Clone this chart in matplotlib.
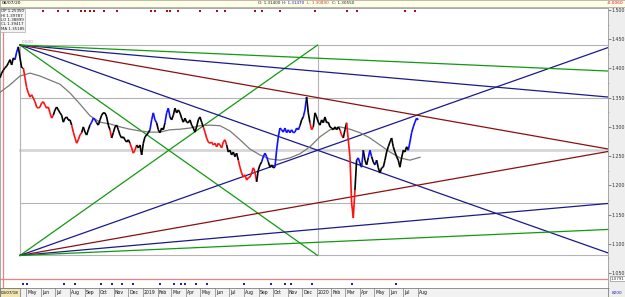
import numpy as np
import pandas as pd
import matplotlib
matplotlib.use("Agg")
import matplotlib.pyplot as plt
import matplotlib.dates as mdates
from matplotlib.collections import LineCollection
from matplotlib.patches import Rectangle

# ---------------- data ----------------
series_start = "2018-03-07"
series_step = "84h"          # one sample every 3.5 days
close = [
    1.384, 1.392, 1.397, 1.401, 1.404, 1.409, 1.415, 1.406, 1.418, 1.415,
    1.428, 1.437, 1.418, 1.401, 1.401, 1.384, 1.367, 1.358, 1.351, 1.355,
    1.349, 1.343, 1.334, 1.332, 1.334, 1.341, 1.343, 1.337, 1.332, 1.334,
    1.324, 1.315, 1.320, 1.329, 1.334, 1.329, 1.324, 1.320, 1.308, 1.315,
    1.317, 1.312, 1.312, 1.303, 1.291, 1.281, 1.272, 1.278, 1.286, 1.290,
    1.300, 1.291, 1.286, 1.295, 1.303, 1.308, 1.315, 1.312, 1.307, 1.303,
    1.312, 1.320, 1.324, 1.324, 1.317, 1.303, 1.295, 1.281, 1.290, 1.300,
    1.303, 1.295, 1.286, 1.281, 1.283, 1.278, 1.274, 1.278, 1.272, 1.264,
    1.255, 1.260, 1.269, 1.264, 1.269, 1.252, 1.272, 1.283, 1.286, 1.290,
    1.295, 1.312, 1.324, 1.312, 1.307, 1.295, 1.290, 1.298, 1.295, 1.307,
    1.324, 1.332, 1.317, 1.312, 1.320, 1.332, 1.324, 1.329, 1.324, 1.315,
    1.308, 1.315, 1.308, 1.307, 1.312, 1.303, 1.298, 1.291, 1.300, 1.312,
    1.317, 1.308, 1.300, 1.291, 1.281, 1.274, 1.272, 1.274, 1.269, 1.272,
    1.266, 1.272, 1.269, 1.264, 1.274, 1.278, 1.269, 1.257, 1.260, 1.252,
    1.257, 1.249, 1.255, 1.243, 1.231, 1.221, 1.214, 1.218, 1.209, 1.213,
    1.214, 1.221, 1.230, 1.223, 1.206, 1.226, 1.235, 1.240, 1.249, 1.255,
    1.249, 1.240, 1.231, 1.235, 1.230, 1.231, 1.260, 1.283, 1.298, 1.295,
    1.291, 1.298, 1.290, 1.295, 1.290, 1.295, 1.290, 1.291, 1.298, 1.295,
    1.302, 1.312, 1.317, 1.329, 1.351, 1.324, 1.307, 1.295, 1.300, 1.324,
    1.317, 1.308, 1.303, 1.312, 1.307, 1.317, 1.307, 1.308, 1.300, 1.298,
    1.295, 1.300, 1.295, 1.300, 1.295, 1.286, 1.281, 1.295, 1.307, 1.278,
    1.249, 1.170, 1.144, 1.192, 1.243, 1.247, 1.238, 1.231, 1.260, 1.243,
    1.235, 1.247, 1.260, 1.249, 1.240, 1.235, 1.243, 1.230, 1.221, 1.230,
    1.231, 1.243, 1.257, 1.266, 1.274, 1.281, 1.266, 1.257, 1.249, 1.243,
    1.231, 1.247, 1.260, 1.257, 1.266, 1.260, 1.274, 1.290, 1.300, 1.308,
    1.315, 1.312,
]
# trend colouring of the bars: (colour code, number of samples)
color_runs = [
    ("k", 10), ("b", 2), ("k", 3), ("r", 18), ("k", 11), ("r", 6), ("k", 5),
    ("b", 4), ("k", 8), ("r", 1), ("k", 11), ("r", 4), ("k", 8), ("b", 4),
    ("k", 5), ("b", 3), ("k", 20), ("r", 14), ("k", 7), ("r", 11), ("k", 3),
    ("b", 4), ("k", 4), ("b", 15), ("k", 2), ("b", 2), ("k", 2), ("r", 2),
    ("k", 16), ("r", 2), ("k", 2), ("r", 5), ("k", 1), ("b", 2), ("k", 1),
    ("b", 1), ("k", 3), ("b", 2), ("k", 2), ("b", 1), ("k", 19), ("b", 6),
]
ma_start = "2018-03-07"
ma_step = "21D"
ma_values = [
    1.359, 1.372, 1.387, 1.392, 1.387, 1.380, 1.373, 1.358, 1.339, 1.319,
    1.308, 1.305, 1.300, 1.296, 1.293, 1.291, 1.291, 1.295, 1.296, 1.298,
    1.302, 1.303, 1.302, 1.293, 1.278, 1.262, 1.252, 1.245, 1.243, 1.247,
    1.254, 1.266, 1.283, 1.295, 1.300, 1.296, 1.290, 1.281, 1.269, 1.257,
    1.247, 1.243, 1.248,
]
red_marks = [
    "2018-06-05", "2018-07-07", "2018-07-28", "2018-08-24", "2018-09-01",
    "2018-09-12", "2018-09-20", "2018-10-11", "2018-11-08", "2019-01-18",
    "2019-01-27", "2019-02-21", "2019-02-27", "2019-03-16", "2019-05-01",
    "2019-06-06", "2019-06-23", "2019-08-25", "2019-09-08", "2019-10-16",
    "2019-12-29", "2020-03-05", "2020-03-26", "2020-07-05", "2020-07-26",
]
blue_marks = [
    "2018-04-24", "2018-05-03", "2018-07-19", "2018-08-12", "2018-10-05",
    "2018-10-28", "2018-11-18", "2018-12-11", "2019-02-06", "2019-03-07",
    "2019-03-22", "2019-03-31", "2019-04-23", "2019-05-16", "2019-08-01",
    "2019-09-27", "2019-10-27", "2019-11-08", "2019-12-22", "2020-03-15",
    "2020-06-16",
]
gann_start = "2018-04-18"
gann_end = "2020-01-03"
gann_high = 1.44
gann_low = 1.08
gann_levels = [1.08, 1.17, 1.26, 1.35, 1.44]
fan_ratios = [1, 2, 4, 8, 16]
fan_colors = ["#109a10", "#1a1a8c", "#8b1010", "#1a1a8c", "#109a10"]
red_level = 1.040
red_level_label = "1.0791"
red_vline = "2018-03-13"
y_ticks = [1.05, 1.10, 1.15, 1.20, 1.25, 1.30, 1.35, 1.40, 1.45, 1.50]
x_left = "2018-03-07"
x_right = "2021-09-04"
y_bottom, y_top = 1.0243, 1.5034
month_starts = pd.date_range("2018-05-01", "2020-08-01", freq="MS")
first_label = "03/07/18"
info_lines = ["OP 1.25350", "HI 1.39787", "LO 1.38899", "CL 1.39417", "MA 1.35185"]
header_date = "08/07/20"
header_ohlc = [("O: 1.31400", "#222222"), ("H: 1.31470", "#2020c0"),
               ("L: 1.30890", "#d04020"), ("C: 1.30550", "#222222")]
header_change = "-0.0060"
corner_label = "8200"

# ---------------- figure ----------------
W, H = 625, 297
fig = plt.figure(figsize=(W / 100, H / 100), dpi=100, facecolor="#eeeeee")

def fx(px):
    return px / W

def fy(py):
    return 1 - py / H

ax = fig.add_axes([0, fy(288), fx(608), fy(8) - fy(288)], facecolor="white")
xl = mdates.date2num(pd.Timestamp(x_left))
xr = mdates.date2num(pd.Timestamp(x_right))
ax.set_xlim(xl, xr)
ax.set_ylim(y_bottom, y_top)

# gann box and levels
g0 = mdates.date2num(pd.Timestamp(gann_start))
g1 = mdates.date2num(pd.Timestamp(gann_end))
for lv in gann_levels:
    if abs(lv - (gann_high + gann_low) / 2) < 1e-9:
        ax.plot([g0, xr], [lv, lv], color="#d6d6d6", lw=2.0, zorder=1)
    else:
        ax.plot([g0, xr], [lv, lv], color="#b4b4b4", lw=0.8, zorder=1)
for gx in (g0, g1):
    ax.plot([gx, gx], [gann_low, gann_high], color="#b4b4b4", lw=0.8, zorder=1)
ax.text(g0 + 3, gann_high + 0.002, "0.500", fontsize=3.0, color="#999999",
        va="bottom", ha="left")

span = g1 - g0
rng = gann_high - gann_low
for r, c in zip(fan_ratios, fan_colors):
    end = g1 if r == 1 else xr
    ax.plot([g0, end], [gann_high, gann_high - rng / r * (end - g0) / span],
            color=c, lw=0.9, zorder=2)
    ax.plot([g0, end], [gann_low, gann_low + rng / r * (end - g0) / span],
            color=c, lw=0.9, zorder=2)

# red reference lines
ax.axhline(red_level, color="#f08080", lw=0.9, zorder=1)
ax.axvline(mdates.date2num(pd.Timestamp(red_vline)), color="#f08080", lw=0.9, zorder=1)

# moving average
ma_dates = mdates.date2num(pd.date_range(ma_start, periods=len(ma_values), freq=ma_step))
ax.plot(ma_dates, ma_values, color="#7a7a7a", lw=0.9, zorder=3)

# price
p_dates = mdates.date2num(pd.date_range(series_start, periods=len(close), freq=series_step))
codes = []
for c, n in color_runs:
    codes += [c] * n
cmap = {"k": "#000000", "r": "#ff1010", "b": "#1010ff"}
pts = np.column_stack([p_dates, close])
segs = np.stack([pts[:-1], pts[1:]], axis=1)
lc = LineCollection(segs, colors=[cmap[c] for c in codes[1:]], linewidths=1.2, zorder=4)
ax.add_collection(lc)

# event markers
ax.scatter(mdates.date2num(pd.to_datetime(red_marks)), [1.4985] * len(red_marks),
           marker="s", s=2.5, color="#a01010", zorder=5, linewidths=0)
ax.scatter(mdates.date2num(pd.to_datetime(blue_marks)), [1.031] * len(blue_marks),
           marker="s", s=2.5, color="#2020c0", zorder=5, linewidths=0)

# axis styling
ax.set_xticks([])
ax.yaxis.tick_right()
ax.set_yticks(y_ticks)
ax.set_yticklabels([f"{v:.3f}" for v in y_ticks], fontsize=3.4, color="#333333")
ax.set_yticks(np.arange(1.025, 1.51, 0.025), minor=True)
ax.tick_params(axis="y", which="major", direction="out", length=2.0, width=0.5,
               pad=0.8, colors="#555555", labelcolor="#333333")
ax.tick_params(axis="y", which="minor", direction="out", length=1.0, width=0.4,
               colors="#777777")
for s in ax.spines.values():
    s.set_color("#9a9a9a")
    s.set_linewidth(0.6)
ax.text(1.004, (red_level - y_bottom) / (y_top - y_bottom), red_level_label,
        transform=ax.transAxes, fontsize=2.9, va="center", ha="left", color="#333333",
        bbox=dict(boxstyle="square,pad=0.12", fc="white", ec="#777777", lw=0.4))

# header strip
hx = fig.add_axes([0, fy(7), 1, fy(0) - fy(7)], facecolor="#ffffe6")
hx.set_xticks([]); hx.set_yticks([])
for s in hx.spines.values():
    s.set_color("#a0a0a0"); s.set_linewidth(0.5)
hx.set_xlim(0, W); hx.set_ylim(0, 7)
hx.text(2, 3.5, header_date, fontsize=3.2, va="center", ha="left")
for i, (t, c) in enumerate(header_ohlc):
    hx.text(258 + i * 24.5, 3.5, t, fontsize=3.0, va="center", ha="left", color=c)
hx.text(624, 3.5, header_change, fontsize=3.2, va="center", ha="right", color="#e01010")

# info box
fig.text(fx(1), fy(9.5), "\n".join(info_lines), fontsize=2.9, va="top", ha="left",
         linespacing=1.1, color="#222222",
         bbox=dict(boxstyle="square,pad=0.2", fc="#f4f4f4", ec="#9a9a9a", lw=0.4))

# bottom month strip
bx = fig.add_axes([0, fy(297), fx(608), fy(288) - fy(297)], facecolor="#f2f2f2")
bx.set_xlim(xl, xr); bx.set_ylim(0, 1)
bx.set_xticks([]); bx.set_yticks([])
for s in bx.spines.values():
    s.set_color("#808080"); s.set_linewidth(0.6)
ms = mdates.date2num(month_starts)
bx.add_patch(Rectangle((xl, 0.05), mdates.date2num(pd.Timestamp("2018-04-18")) - xl, 0.9,
                       fc="#f0e6b0", ec="#707070", lw=0.5))
bx.text(xl + 1.5, 0.5, first_label, fontsize=2.9, va="center", ha="left")
for i, m in enumerate(month_starts):
    x0 = ms[i]
    bx.axvline(x0, color="#808080", lw=0.5)
    lab = str(m.year) if m.month == 1 else m.strftime("%b")
    bx.text(x0 + 2.5, 0.5, lab, fontsize=3.3, va="center", ha="left", color="#111111")
fig.text(fx(612), fy(293), corner_label, fontsize=3.1, va="center", ha="left", color="#2020c0")

fig.savefig("out.png", dpi=100, facecolor=fig.get_facecolor())
